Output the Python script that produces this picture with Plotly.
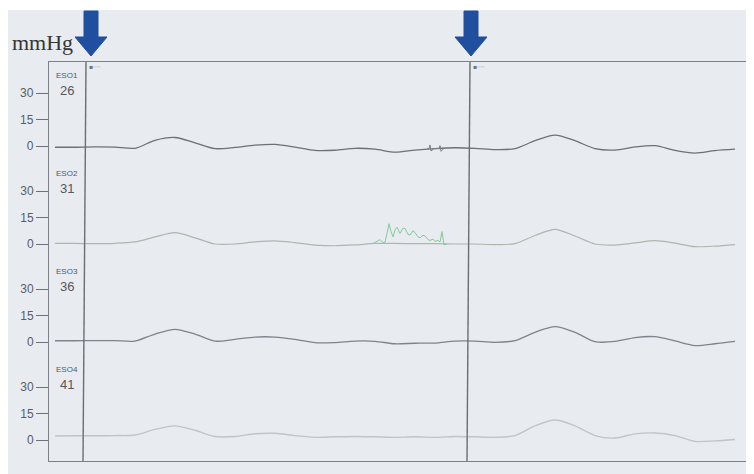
import plotly.graph_objects as go

# ---------------- data (mmHg vs time in s) ----------------
time_s = [-1.5, -0.5, 0.5, 1.5, 2.5, 3.5, 4.5, 5.5, 6.5, 7.5, 8.5, 9.5, 10.5, 11.5,
          12.5, 13.5, 14.5, 15.5, 16.5, 17.5, 18.5, 19.5, 20.5, 21.5, 22.5, 23.5,
          24.5, 25.5, 26.5, 27.5, 28.5, 29.5, 30.5, 31.5, 32.5]

eso1 = [-0.7, -0.7, -0.5, -0.6, -1.3, 3.2, 4.8, 1.8, -1.5, -0.8, 0.5, 0.9, -0.6, -2.5,
        -2.4, -1.3, -1.8, -3.5, -2.3, -1.5, -1.0, -1.3, -2.0, -1.5, 3.0, 6.2,
        3.0, -1.5, -2.3, -0.5, 0.2, -2.5, -4.0, -2.6, -1.8]

eso2 = [0.3, 0.3, 0.2, 0.4, 1.2, 4.0, 6.4, 3.5, 0.0, 0.0, 1.2, 1.8, 0.8, -0.6,
        -1.0, -0.5, 0.3, 0.3, 0.2, 0.2, 0.0, 0.0, -0.3, 0.2, 4.8, 8.3,
        4.5, 0.0, -0.6, 0.6, 1.9, 0.5, -1.5, -1.2, -0.3]

eso3 = [0.7, 0.7, 0.8, 0.8, 0.5, 4.5, 7.2, 4.5, 0.5, 1.5, 2.8, 2.8, 1.5, -0.4,
        -0.3, 0.5, 0.4, -1.0, -0.7, -0.6, 0.5, 0.5, -0.2, 0.8, 5.5, 8.7,
        5.5, 0.2, 0.3, 2.5, 3.0, 0.6, -2.0, -1.0, 0.4]

eso4 = [2.3, 2.4, 2.4, 2.5, 2.8, 6.0, 8.0, 5.5, 2.0, 2.0, 3.5, 3.8, 2.5, 1.5,
        1.8, 2.0, 1.8, 1.5, 1.8, 1.5, 2.0, 1.8, 1.5, 2.5, 8.0, 11.3,
        8.0, 2.5, 1.1, 3.5, 4.0, 2.5, -0.8, -0.5, 0.3]

# green artefact burst on ESO2
burst_t = [14.4, 14.6, 14.75, 14.9, 15.0, 15.1, 15.2, 15.3, 15.4, 15.5, 15.6, 15.75,
           15.9, 16.0, 16.15, 16.25, 16.4, 16.5, 16.65, 16.75, 16.9, 17.0, 17.15,
           17.25, 17.4, 17.5, 17.65, 17.75, 17.85, 17.95, 18.1]
burst_v = [0.2, 1.5, 2.5, 0.8, 1.0, 6.0, 11.5, 7.0, 4.0, 8.0, 9.5, 6.0,
           9.0, 8.8, 5.5, 5.0, 7.5, 6.5, 4.0, 3.5, 5.0, 4.5, 2.5,
           2.0, 2.8, 1.5, 2.0, 1.2, 7.0, -0.5, 0.0]

# small artefact ticks on ESO1
glitch_t = [17.1, 17.2, 17.25, 17.3, 17.45, 17.6, 17.7, 17.75, 17.8, 17.95]
glitch_v = [-1.6, -1.6, 0.6, -2.8, -1.5, -1.6, -1.4, 0.2, -3.0, -1.3]

channel_names = ["ESO1", "ESO2", "ESO3", "ESO4"]
channel_depths = ["26", "31", "36", "41"]
tick_vals = [0, 15, 30]
tick_text = ["0", "15", "30"]
swallow_marks = [0.0, 19.2]     # vertical event lines (s)
arrow_times = [0.3, 19.3]       # blue arrows (s)

# ---------------- layout constants ----------------
OFF = 8                          # page body margin
PAGE_W, PAGE_H = 754, 474
W, H = PAGE_W - OFF, PAGE_H - OFF
L, R, T, B = 49 - OFF, 746 - OFF, 62 - OFF, 461 - OFF
px_per_s = 20.0
t0_px = 85 - OFF
px_per_mmhg = 53 / 30
zero_px = [146 - OFF, 244 - OFF, 342 - OFF, 440 - OFF]
plot_h = B - T
plot_w = R - L

x_range = [(L - t0_px) / px_per_s, (R - t0_px) / px_per_s]

series = [eso1, eso2, eso3, eso4]
colors = ["#6c7079", "#aeb6ae", "#80838d", "#c0c4c9"]
widths = [1.3, 1.2, 1.3, 1.4]

fig = go.Figure()
yids = ["y", "y2", "y3", "y4"]
for i, vals in enumerate(series):
    fig.add_trace(go.Scatter(x=time_s, y=vals, mode="lines", yaxis=yids[i],
                             line=dict(color=colors[i], width=widths[i], shape="spline", smoothing=0.8),
                             showlegend=False, hoverinfo="skip"))
fig.add_trace(go.Scatter(x=burst_t, y=burst_v, mode="lines", yaxis="y2",
                         line=dict(color="#86c99b", width=1.0),
                         showlegend=False, hoverinfo="skip"))
fig.add_trace(go.Scatter(x=glitch_t, y=glitch_v, mode="lines", yaxis="y",
                         line=dict(color="#7a7e87", width=1.0),
                         showlegend=False, hoverinfo="skip"))

axis_font = dict(family="Liberation Sans, Arial, sans-serif", size=12, color="#5a5d63")
layout_axes = {}
for i in range(4):
    z = zero_px[i]
    rng = [-(B - z) / px_per_mmhg, (z - T) / px_per_mmhg]
    ax = dict(range=rng, domain=[0, 1], anchor="x", side="left",
              tickmode="array", tickvals=tick_vals, ticktext=tick_text,
              ticks="outside", ticklen=12, tickwidth=1, tickcolor="#6e7178",
              tickfont=axis_font, showgrid=False, zeroline=False, fixedrange=True)
    if i == 0:
        ax.update(showline=True, linecolor="#7d8088", linewidth=1.3, mirror=True)
    else:
        ax.update(showline=False, overlaying="y")
    key = "yaxis" if i == 0 else f"yaxis{i+1}"
    layout_axes[key] = ax

fig.update_layout(
    width=W, height=H,
    margin=dict(l=L, r=W - R, t=T, b=H - B, pad=0),
    paper_bgcolor="#e8ebf0", plot_bgcolor="#e8ebf0",
    xaxis=dict(range=x_range, showticklabels=False, ticks="", showgrid=False, zeroline=False,
               showline=True, linecolor="#7d8088", linewidth=1.3, mirror=True, fixedrange=True),
    **layout_axes,
)

shapes = []
# white strip along the very top of the scan
shapes.append(dict(type="rect", xref="paper", yref="paper", layer="below",
                   x0=-0.2, x1=1.2, y0=(B - (10 - OFF)) / plot_h, y1=1.3,
                   fillcolor="#ffffff", line=dict(width=0)))
# vertical event lines
for m in swallow_marks:
    shapes.append(dict(type="line", xref="x", yref="paper",
                       x0=m - 0.1, x1=m + 0.05, y0=0, y1=1,
                       line=dict(color="#6a6e76", width=1.4)))
# blue arrows (pixel-sized, anchored on their time and on the top of the frame)
arrow_path = "M -7,51 L 7,51 L 7,25 L 16,25 L 0,6 L -16,25 L -7,25 Z"
for a in arrow_times:
    shapes.append(dict(type="path", xref="x", yref="paper",
                       xsizemode="pixel", ysizemode="pixel", xanchor=a, yanchor=1,
                       path=arrow_path, fillcolor="#1f4f9e", line=dict(color="#1f4f9e", width=1)))
fig.update_layout(shapes=shapes)

ann = []
ann.append(dict(text="mmHg", xref="paper", yref="paper",
                x=(10 - OFF - L) / plot_w, y=(B - (43 - OFF)) / plot_h, xanchor="left", yanchor="middle",
                showarrow=False, font=dict(family="Liberation Serif, Times New Roman, serif", size=22, color="#363636")))
for i in range(4):
    yr = yids[i]
    ann.append(dict(text=channel_names[i], xref="x", yref=yr, x=-0.9, y=40,
                    xanchor="center", yanchor="middle", showarrow=False,
                    font=dict(family="Liberation Sans, Arial, sans-serif", size=8, color="#55585f")))
    ann.append(dict(text=channel_depths[i], xref="x", yref=yr, x=-0.9, y=31.5,
                    xanchor="center", yanchor="middle", showarrow=False,
                    font=dict(family="Liberation Sans, Arial, sans-serif", size=13, color="#55585e")))
for m in swallow_marks:
    ann.append(dict(text="▪····", xref="x", yref="paper", x=m + 0.1, y=(B - (66 - OFF)) / plot_h,
                    xanchor="left", yanchor="middle", showarrow=False,
                    font=dict(family="DejaVu Sans", size=6, color="#6f7279")))
fig.update_layout(annotations=ann)

fig.write_html("out.html")
